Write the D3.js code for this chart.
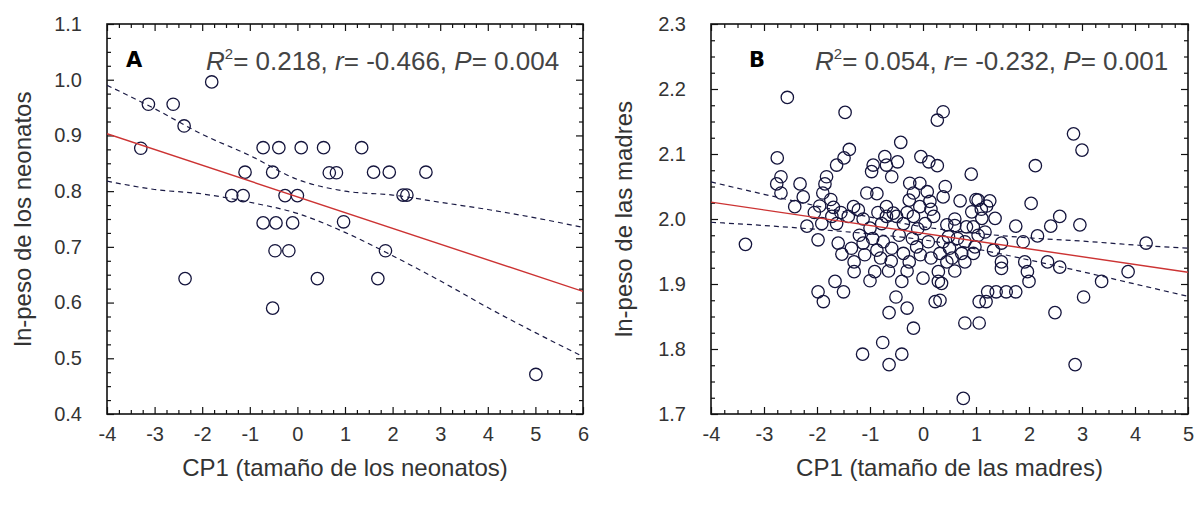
<!DOCTYPE html>
<html><head><meta charset="utf-8">
<script src="https://cdn.jsdelivr.net/npm/d3@7"></script>
<style>body{margin:0;background:#fff} svg{display:block}</style>
</head><body><svg id="c" width="1196" height="508"></svg>
<script>
// ---------- Panel A data ----------
const aX = [-1.80,-3.13,-2.61,-2.38,-3.29,-0.72,-0.39,0.08,0.55,-1.10,-0.52,0.67,0.82,-1.38,-1.14,-0.26,0.00,0.97,
            1.35,1.60,1.93,2.70,2.22,2.30,-0.72,-0.45,-0.10,-0.47,-0.18,-2.36,0.42,-0.52,1.85,1.69,5.01];
const aY = [0.996,0.956,0.956,0.917,0.877,0.878,0.878,0.878,0.878,0.834,0.834,0.833,0.833,0.792,0.792,0.792,0.792,0.745,
            0.878,0.834,0.834,0.834,0.793,0.793,0.743,0.743,0.743,0.693,0.693,0.643,0.643,0.590,0.693,0.643,0.471];
const fitAx = [-4, 6];
const fitAy = [0.903, 0.620];
const bandAx = [-4,-3,-2,-1,0,1,2,3,4,5,6];
const bandAupper = [0.990,0.948,0.902,0.864,0.821,0.800,0.793,0.780,0.767,0.752,0.735];
const bandAlower = [0.818,0.803,0.795,0.780,0.760,0.726,0.684,0.639,0.591,0.546,0.503];
const xTicksA = [-4,-3,-2,-1,0,1,2,3,4,5,6];
const yTicksA = [0.4,0.5,0.6,0.7,0.8,0.9,1.0,1.1];
const yLabelsA = ["0.4","0.5","0.6","0.7","0.8","0.9","1.0","1.1"];

// ---------- Panel B data ----------
const bX = [
 -2.56,-1.47,0.38,0.27,-0.42,-1.39,-1.49,-1.63,-2.75,-2.68,
 -2.76,-2.68,-2.32,-2.26,-2.42,-1.82,-1.85,-1.89,-1.74,-1.69,
 -0.94,-0.97,-0.72,-0.69,-0.48,-0.59,-0.04,0.11,0.27,-1.06,
 -0.87,-0.25,-0.06,-0.18,0.08,-0.26,-0.06,0.13,0.42,-1.31,
 -1.22,-0.69,-0.56,0.38,
 2.84,3.00,2.12,0.91,0.70,1.00,1.04,1.26,2.04,0.92,2.58,
 0.76,2.87,0.79,1.06,2.49,3.03,1.06,1.19,1.22,1.38,
 1.57,1.75,2.00,1.97,3.37,3.87,4.21,2.96,2.41,2.16,
 1.89,1.92,2.35,2.58,1.75,1.48,1.48,1.48,1.36,1.33,
 1.11,0.82,0.95,1.17,0.45,0.38,0.45,0.79,0.35,0.32,
 0.95,0.73,0.98,0.79,1.04,
 -3.35,-2.19,-1.98,-1.60,-1.53,-1.30,-1.30,-1.13,-0.87,-0.59,
 -0.91,-1.00,-1.66,-1.50,-1.98,-1.88,-0.40,-0.51,-0.64,-0.30,
 -0.18,-0.76,-1.14,-0.40,-0.64,-0.37,-0.26,-0.12,0.00,0.29,
 0.23,0.29,0.32,
 -1.91,-1.72,-1.63,-1.41,-1.13,-1.00,-0.78,-0.69,-0.50,-0.37,-0.18,0.04,0.20,0.48,
 -1.20,-0.95,-0.75,-0.45,-0.20,0.10,-0.05,-0.60,-0.80,0.15,
 -0.30,-0.65,-1.10,-1.35,-0.10,-0.85,-0.30,0.15,-1.55,-2.05,
 -1.95,0.60,0.60,0.65,0.50,0.60,0.55,1.20,1.10];
const bY = [
 2.187,2.164,2.165,2.152,2.118,2.107,2.094,2.083,2.094,2.065,
 2.054,2.040,2.054,2.034,2.019,2.065,2.054,2.040,2.030,2.018,
 2.083,2.073,2.096,2.083,2.088,2.065,2.096,2.088,2.082,2.040,
 2.039,2.055,2.055,2.040,2.042,2.029,2.019,2.027,2.050,2.019,
 2.014,2.019,2.009,2.034,
 2.131,2.106,2.082,2.069,2.028,2.030,2.029,2.028,2.024,2.011,2.004,
 1.724,1.776,1.840,1.840,1.856,1.880,1.873,1.873,1.888,1.888,
 1.888,1.888,1.904,1.919,1.904,1.919,1.963,1.991,1.989,1.974,
 1.965,1.934,1.934,1.926,1.989,1.963,1.934,1.924,2.001,1.952,
 2.001,1.988,1.988,1.980,1.991,1.965,1.934,1.934,1.901,1.875,
 1.947,1.947,1.957,1.965,1.975,
 1.961,1.989,1.968,1.963,1.946,1.934,1.919,1.963,1.952,1.955,
 1.919,1.905,1.904,1.888,1.888,1.873,1.904,1.880,1.856,1.863,
 1.832,1.810,1.792,1.792,1.776,1.947,1.934,1.957,1.909,1.904,
 1.873,1.919,1.947,
 1.993,2.004,1.993,2.004,2.000,1.986,1.993,2.004,2.004,1.993,2.004,1.993,2.004,1.973,
 1.975,1.970,1.965,1.975,1.970,1.965,1.945,1.935,1.940,1.940,
 1.920,1.920,1.945,1.955,1.985,2.010,2.010,2.015,2.010,2.010,
 2.020,1.990,2.000,1.970,1.955,1.920,1.940,2.020,2.015];
const fitBx = [-4, 5];
const fitBy = [2.026, 1.918];
const bandBx = [-4,-3,-2,-1,0,1,2,3,4,5];
const bandBupper = [2.057,2.038,2.020,2.003,1.988,1.978,1.971,1.966,1.960,1.955];
const bandBlower = [1.995,1.990,1.984,1.977,1.968,1.954,1.937,1.919,1.900,1.881];
const xTicksB = [-4,-3,-2,-1,0,1,2,3,4,5];
const yTicksB = [1.7,1.8,1.9,2.0,2.1,2.2,2.3];
const yLabelsB = ["1.7","1.8","1.9","2.0","2.1","2.2","2.3"];

const FONT = '"Liberation Sans", Arial, sans-serif';
const svg = d3.select("#c");

function panel(cfg){
  const g = svg.append("g");
  const x = d3.scaleLinear().domain(cfg.xd).range([cfg.left, cfg.right]);
  const y = d3.scaleLinear().domain(cfg.yd).range([cfg.bottom, cfg.top]);
  const minorX = d3.range(cfg.xd[0], cfg.xd[1] + 1e-9, 0.25).filter(v => Math.abs(v - Math.round(v)) > 1e-6);
  const minorY = d3.range(cfg.yd[0], cfg.yd[1] + 1e-9, 0.025).filter(v => Math.abs(v*10 - Math.round(v*10)) > 1e-6);

  function ax(gen, tx, ty, vals, size, fmt, pad){
    const a = gen.tickValues(vals).tickSize(size).tickPadding(pad || 3).tickFormat(fmt);
    const s = g.append("g").attr("transform", `translate(${tx},${ty})`).call(a);
    s.select(".domain").remove();
    s.selectAll("line").attr("stroke", "#111").attr("stroke-width", 1.2);
    s.selectAll("text").attr("font-family", FONT).attr("font-size", 20).attr("fill", "#333");
    return s;
  }
  const none = () => "";
  // major
  ax(d3.axisBottom(x), 0, cfg.bottom, cfg.xt, -7, d => String(d), 13);
  ax(d3.axisTop(x), 0, cfg.top, cfg.xt, -7, none);
  ax(d3.axisLeft(y), cfg.left, 0, cfg.yt, -7, (d, i) => cfg.yl[i], 25);
  ax(d3.axisRight(y), cfg.right, 0, cfg.yt, -7, none);
  // minor
  ax(d3.axisBottom(x), 0, cfg.bottom, minorX, -4, none);
  ax(d3.axisTop(x), 0, cfg.top, minorX, -4, none);
  ax(d3.axisLeft(y), cfg.left, 0, minorY, -4, none);
  ax(d3.axisRight(y), cfg.right, 0, minorY, -4, none);

  // frame
  g.append("rect").attr("x", cfg.left).attr("y", cfg.top)
    .attr("width", cfg.right - cfg.left).attr("height", cfg.bottom - cfg.top)
    .attr("fill", "none").attr("stroke", "#111").attr("stroke-width", 1.6);

  const clip = "clip" + cfg.id;
  svg.append("clipPath").attr("id", clip).append("rect")
    .attr("x", cfg.left).attr("y", cfg.top).attr("width", cfg.right - cfg.left).attr("height", cfg.bottom - cfg.top);
  const p = g.append("g").attr("clip-path", `url(#${clip})`);

  // points
  p.selectAll("circle").data(cfg.px.map((v, i) => [v, cfg.py[i]])).join("circle")
    .attr("cx", d => x(d[0])).attr("cy", d => y(d[1])).attr("r", 6.2)
    .attr("fill", "none").attr("stroke", "#14143c").attr("stroke-width", 1.3);

  // bands
  const ln = d3.line().x(d => x(d[0])).y(d => y(d[1])).curve(d3.curveMonotoneX);
  [cfg.bu, cfg.bl].forEach(arr => {
    p.append("path").attr("d", ln(cfg.bx.map((v, i) => [v, arr[i]])))
      .attr("fill", "none").attr("stroke", "#1a1a44").attr("stroke-width", 1.2).attr("stroke-dasharray", "5,4");
  });
  // fit
  p.append("path").attr("d", d3.line().x(d => x(d[0])).y(d => y(d[1]))(cfg.fx.map((v, i) => [v, cfg.fy[i]])))
    .attr("fill", "none").attr("stroke", "#cc3333").attr("stroke-width", 1.4);

  // titles
  g.append("text").attr("x", (cfg.left + cfg.right) / 2).attr("y", 476).attr("text-anchor", "middle")
    .attr("font-family", FONT).attr("font-size", 24).attr("fill", "#333").text(cfg.xtitle);
  g.append("text").attr("transform", `translate(${cfg.ytx},${(cfg.top + cfg.bottom) / 2}) rotate(-90)`)
    .attr("text-anchor", "middle").attr("font-family", FONT).attr("font-size", 24).attr("fill", "#333").text(cfg.ytitle);

  // letter
  g.append("text").attr("x", cfg.letterX).attr("y", 67).attr("font-family", '"DejaVu Sans", Verdana, sans-serif')
    .attr("font-weight", "bold").attr("font-size", 21).attr("fill", "#000").text(cfg.letter);

  // stats
  const t = g.append("text").attr("x", cfg.statX).attr("y", 70).attr("font-family", FONT)
    .attr("font-size", 26).attr("fill", "#444");
  t.append("tspan").attr("font-style", "italic").text("R");
  t.append("tspan").attr("font-size", 15).attr("dy", -11).text("2");
  t.append("tspan").attr("dy", 11).text("= " + cfg.r2 + ", ");
  t.append("tspan").attr("font-style", "italic").text("r");
  t.append("tspan").text("= " + cfg.r + ", ");
  t.append("tspan").attr("font-style", "italic").text("P");
  t.append("tspan").text("= " + cfg.P);
}

panel({id: "A", left: 107, right: 583, top: 24, bottom: 414, xd: [-4, 6], yd: [0.4, 1.1],
  xt: xTicksA, yt: yTicksA, yl: yLabelsA, px: aX, py: aY, fx: fitAx, fy: fitAy,
  bx: bandAx, bu: bandAupper, bl: bandAlower, xtitle: "CP1 (tamaño de los neonatos)",
  ytitle: "ln-peso de los neonatos", ytx: 31, letter: "A", letterX: 126, statX: 206,
  r2: "0.218", r: "-0.466", P: "0.004"});

panel({id: "B", left: 711, right: 1188, top: 24, bottom: 414, xd: [-4, 5], yd: [1.7, 2.3],
  xt: xTicksB, yt: yTicksB, yl: yLabelsB, px: bX, py: bY, fx: fitBx, fy: fitBy,
  bx: bandBx, bu: bandBupper, bl: bandBlower, xtitle: "CP1 (tamaño de las madres)",
  ytitle: "ln-peso de las madres", ytx: 632, letter: "B", letterX: 749, statX: 815,
  r2: "0.054", r: "-0.232", P: "0.001"});
</script>
</body></html>
